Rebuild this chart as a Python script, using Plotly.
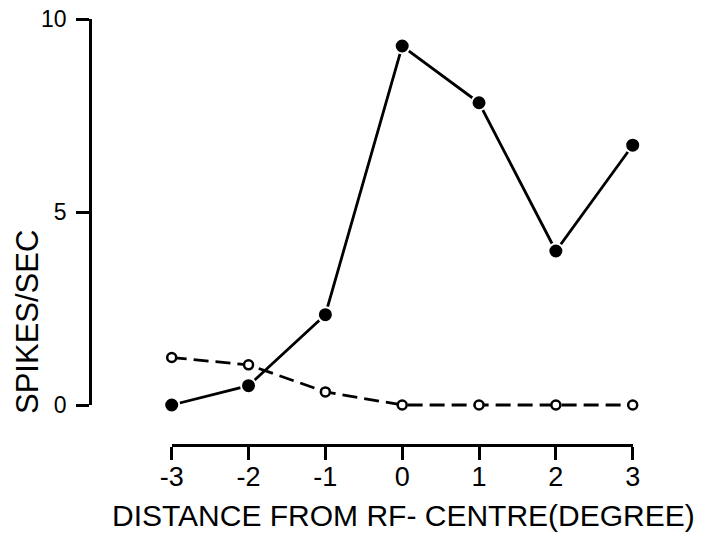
import plotly.graph_objects as go

# Distance of the stimulus from the receptive-field centre (degrees)
distance = [-3, -2, -1, 0, 1, 2, 3]
# Response rates (spikes/sec) for the two conditions
filled_rate = [0.0, 0.5, 2.34, 9.3, 7.83, 3.99, 6.73]
open_rate = [1.23, 1.04, 0.34, 0.0, 0.0, 0.0, 0.0]

x_ticks = [-3, -2, -1, 0, 1, 2, 3]
y_ticks = [0, 5, 10]

W, H = 718, 540
FONT = "Liberation Sans, Arial, sans-serif"
INK = "#000000"

# Pixel geometry of the two visible axes
X_LO_PX, X_HI_PX = 171.7, 632.7   # x = -3 .. 3
Y_LO_PX, Y_HI_PX = 405.0, 19.0    # y = 0 .. 10
YAXIS_X_PX = 90.0
XAXIS_Y_PX = 445.0

ppu_x = (X_HI_PX - X_LO_PX) / (x_ticks[-1] - x_ticks[0])
ppu_y = (Y_LO_PX - Y_HI_PX) / (y_ticks[-1] - y_ticks[0])


def fx(px):
    return px / W


def fy(py):
    return 1 - py / H


# Data axes use a slightly padded range (so markers/lines at the edges are not clipped)
data_xr = [-3.6, 3.6]
data_yr = [-1.0, 10.4]
data_xdom = [fx(X_LO_PX + (data_xr[0] - x_ticks[0]) * ppu_x),
             fx(X_LO_PX + (data_xr[1] - x_ticks[0]) * ppu_x)]
data_ydom = [fy(Y_LO_PX - (data_yr[0] - y_ticks[0]) * ppu_y),
             fy(Y_LO_PX - (data_yr[1] - y_ticks[0]) * ppu_y)]

fig = go.Figure()

fig.add_trace(go.Scatter(
    x=distance, y=open_rate, mode="lines+markers",
    line=dict(color=INK, width=2.8, dash="15px,7px"),
    marker=dict(symbol="circle", size=9, color="white",
                line=dict(color=INK, width=2.5)),
    cliponaxis=False, showlegend=False, xaxis="x", yaxis="y",
))
fig.add_trace(go.Scatter(
    x=distance, y=filled_rate, mode="lines+markers",
    line=dict(color=INK, width=2.8),
    marker=dict(symbol="circle", size=15, color=INK,
                line=dict(color="white", width=2)),
    cliponaxis=False, showlegend=False, xaxis="x", yaxis="y",
))
# Empty trace that attaches the visible axis pair
fig.add_trace(go.Scatter(x=[], y=[], xaxis="x2", yaxis="y2",
                         showlegend=False, hoverinfo="skip"))

fig.update_layout(
    width=W, height=H,
    margin=dict(l=0, r=0, t=0, b=0, autoexpand=False),
    paper_bgcolor="white", plot_bgcolor="rgba(0,0,0,0)",
    font=dict(family=FONT, color=INK),
    showlegend=False,
    xaxis=dict(range=data_xr, domain=data_xdom, visible=False, automargin=False),
    yaxis=dict(range=data_yr, domain=data_ydom, visible=False, automargin=False),
    xaxis2=dict(
        range=[x_ticks[0], x_ticks[-1]],
        domain=[fx(X_LO_PX), fx(X_HI_PX)],
        anchor="free", position=fy(XAXIS_Y_PX),
        tickvals=x_ticks, ticktext=[str(v) for v in x_ticks],
        ticks="outside", ticklen=13, tickwidth=2.5, tickcolor=INK,
        showline=True, linewidth=2.7, linecolor=INK,
        showgrid=False, zeroline=False, automargin=False,
        tickfont=dict(size=27, family=FONT, color=INK),
        ticklabelstandoff=-6,
    ),
    yaxis2=dict(
        range=[y_ticks[0], y_ticks[-1]],
        domain=[fy(Y_LO_PX), fy(Y_HI_PX)],
        anchor="free", position=fx(YAXIS_X_PX),
        tickvals=y_ticks, ticktext=[str(v) for v in y_ticks],
        ticks="outside", ticklen=13, tickwidth=2.5, tickcolor=INK,
        showline=True, linewidth=2.7, linecolor=INK,
        showgrid=False, zeroline=False, automargin=False,
        tickfont=dict(size=23, family=FONT, color=INK),
        ticklabelstandoff=5,
    ),
    annotations=[
        dict(text="SPIKES/SEC", textangle=-90, showarrow=False,
             xref="paper", yref="paper", x=fx(27.5), y=fy(322.5),
             xanchor="center", yanchor="middle",
             font=dict(size=31, family=FONT, color=INK)),
        dict(text="DISTANCE FROM RF- CENTRE(DEGREE)", showarrow=False,
             xref="paper", yref="paper", x=fx(403), y=fy(515),
             xanchor="center", yanchor="middle",
             font=dict(size=30, family=FONT, color=INK)),
    ],
)

fig.write_html("out.html")
